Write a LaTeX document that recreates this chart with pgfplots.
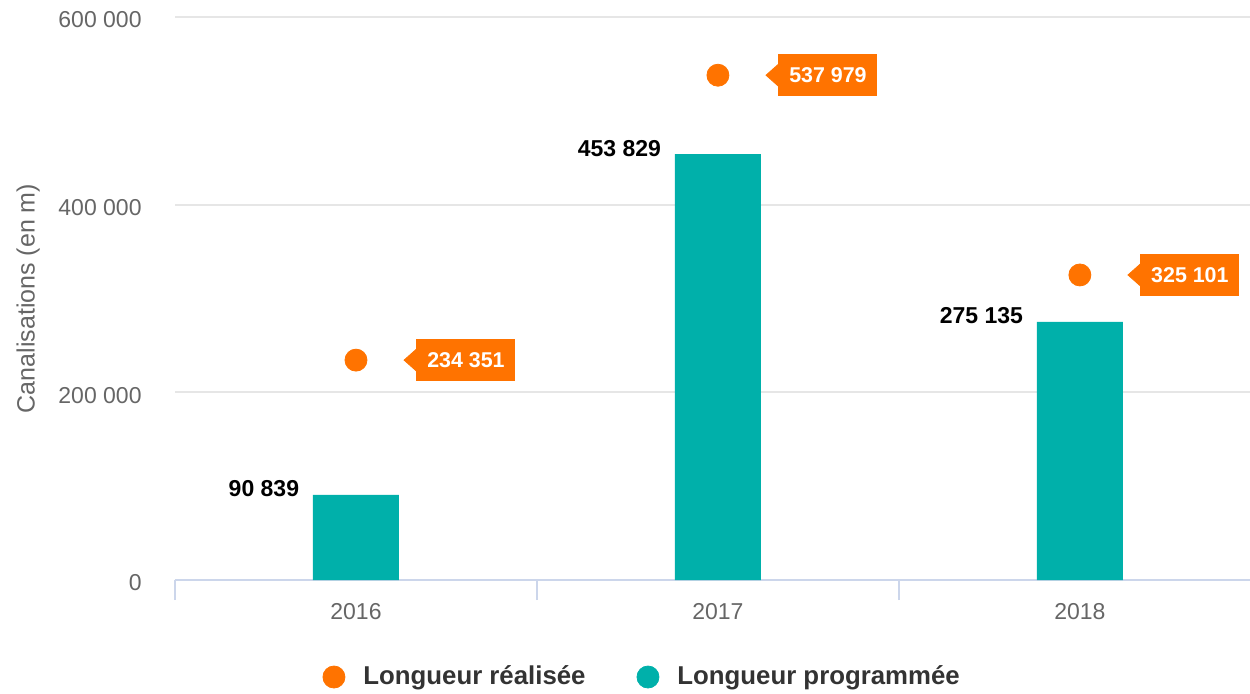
\documentclass[border=0pt]{standalone}
\usepackage{fontspec}
\setmainfont{Liberation Sans}
\usepackage{pgfplots}
\usepackage{pgfplotstable}
\pgfplotsset{compat=1.18}
\definecolor{orangeC}{RGB}{255,115,0}
\definecolor{tealC}{RGB}{0,176,170}
\definecolor{gridC}{RGB}{230,230,230}
\definecolor{axisC}{RGB}{204,214,235}
\definecolor{labC}{RGB}{102,102,102}
\definecolor{legC}{RGB}{51,51,51}

\pgfplotstableread[col sep=comma]{
x,y,lab
0,90839,90 839
1,453829,453 829
2,275135,275 135
}\prog
\pgfplotstableread[col sep=comma]{
x,y,lab
0,234351,234 351
1,537979,537 979
2,325101,325 101
}\real

\begin{document}
\begin{tikzpicture}
\begin{axis}[
  at={(87.5pt,-290pt)}, anchor=south west,
  scale only axis, width=537.5pt, height=281.5pt,
  xmin=-0.5, xmax=2.47, ymin=0, ymax=600000,
  clip=false,
  scaled y ticks=false,
  axis lines*=left,
  y axis line style={draw=none},
  x axis line style={axisC, line width=1pt},
  xtick={0,1,2}, xticklabels={2016,2017,2018},
  minor xtick={-0.5,0.5,1.5},
  ytick={0,200000,400000,600000},
  yticklabels={0,200 000,400 000,600 000},
  major tick length=0pt, minor tick length=10pt, tick align=outside,
  every minor tick/.append style={axisC, line width=1pt},
  ymajorgrids, grid style={gridC, line width=1pt},
  xticklabel style={labC, font=\fontsize{11.5}{13}\selectfont, anchor=north, inner sep=0pt, yshift=-11.5pt},
  yticklabel style={labC, font=\fontsize{11.5}{13}\selectfont, anchor=east, inner sep=0pt, xshift=-16.5pt, yshift=-1.5pt},
  ylabel={Canalisations (en m)},
  ylabel style={at={(axis description cs:-0.1367,0.5)}, anchor=center, labC, font=\fontsize{12.5}{15}\selectfont},
  legend style={at={(axis description cs:0.4355,-0.1723)}, anchor=center, draw=none, fill=none,
    font=\bfseries\fontsize{12.9}{15}\selectfont, text=legC, legend columns=2,
    column sep=7pt, /tikz/every even column/.append style={column sep=23.5pt}},
]
\addlegendimage{legend image code/.code={\fill[orangeC] (0pt,0pt) circle (5.5pt);}}
\addlegendentry{Longueur réalisée}
\addlegendimage{legend image code/.code={\fill[tealC] (0pt,0pt) circle (5.5pt);}}
\addlegendentry{Longueur programmée}

\addplot[forget plot, ybar, bar width=43pt, fill=tealC, draw=none,
  nodes near coords, point meta=explicit symbolic,
  nodes near coords style={anchor=base east, xshift=-28.25pt, yshift=-1pt, inner sep=0pt,
    text=black, font=\bfseries\fontsize{11.5}{13}\selectfont}]
  table[x=x, y=y, meta=lab]{\prog};

\addplot[forget plot, only marks, mark=*, mark size=5.5pt, color=orangeC,
  nodes near coords, point meta=explicit symbolic,
  nodes near coords style={fill=orangeC, text=white,
    anchor=center, xshift=55pt, yshift=0pt, minimum width=49.5pt, minimum height=20.8pt,
    inner sep=0pt, font=\bfseries\fontsize{10.7}{12}\selectfont,
    append after command={\pgfextra{\fill[orangeC] (\tikzlastnode.west) ++(0.2pt,5.5pt) -- ++(-6.2pt,-5.5pt) -- ++(6.2pt,-5.5pt) -- cycle;}}}]
  table[x=x, y=y, meta=lab]{\real};
\end{axis}
\pgfresetboundingbox
\path[use as bounding box] (0,0) rectangle (625pt,-346.5pt);
\end{tikzpicture}
\end{document}
